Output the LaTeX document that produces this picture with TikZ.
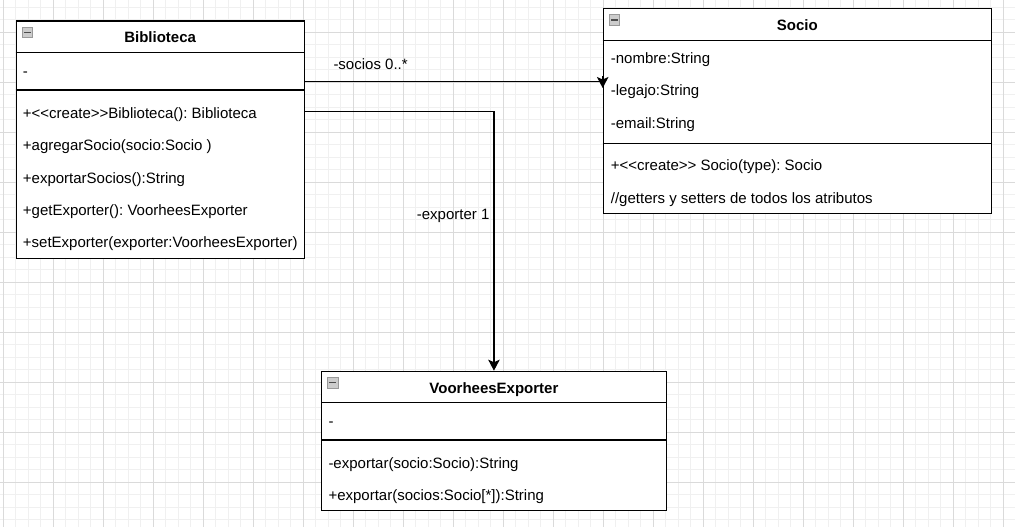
\documentclass[tikz,border=0pt]{standalone}
\usepackage{fontspec}
\setmainfont{Liberation Sans}
\usetikzlibrary{arrows.meta}
\definecolor{gridmajor}{HTML}{DADADA}
\definecolor{gridminor}{HTML}{F0F0F0}
\frenchspacing
\begin{document}
\begin{tikzpicture}[x=1pt,y=-1pt,
  umlbox/.style={draw=black,line width=1.2pt,fill=white,rectangle,inner sep=0pt,anchor=north west},
  sep/.style={draw=black,line width=1.2pt},
  title/.style={font=\fontsize{15}{18}\selectfont\bfseries,inner sep=0pt,anchor=base},
  member/.style={font=\fontsize{15}{18}\selectfont,inner sep=0pt,anchor=base west},
  lbl/.style={font=\fontsize{15}{18}\selectfont,inner sep=0pt,anchor=base west},
  wire/.style={draw=black,line width=1.2pt},
  conn/.style={wire,-{Stealth[length=11pt,width=11.5pt,inset=2.5pt]}},
  icon/.style={rectangle,anchor=north west,minimum size=10.5pt,inner sep=0pt,fill=gray!40,draw=gray!80,line width=0.7pt,
    path picture={\draw[black!70,line width=1.6pt] ([xshift=1.8pt]path picture bounding box.west) -- ([xshift=-1.8pt]path picture bounding box.east);}}
]
\useasboundingbox (0,0) rectangle (1015,527);
\fill[white] (0,0) rectangle (1015,527);
% grid
\begin{scope}
\clip (0,0) rectangle (1015,527);
\foreach \i in {0,...,81} { \draw[gridminor,line width=1pt] ({3.3+12.5*\i},0) -- ({3.3+12.5*\i},527); }
\foreach \i in {0,...,43} { \draw[gridminor,line width=1pt] (0,{-5.2+12.5*\i}) -- (1015,{-5.2+12.5*\i}); }
\foreach \i in {0,...,20} { \draw[gridmajor,line width=1pt] ({3.3+50*\i},0) -- ({3.3+50*\i},527); }
\foreach \i in {0,...,11} { \draw[gridmajor,line width=1pt] (0,{-17.7+50*\i}) -- (1015,{-17.7+50*\i}); }
\end{scope}

% Biblioteca
\node[umlbox,minimum width=288pt,minimum height=237pt] (bib) at (15.5,20.5) {};
\draw[sep] (bib.west |- 0,52.7) -- (bib.east |- 0,52.7);
\draw[sep] (bib.west |- 0,90) -- (bib.east |- 0,90);
\node[icon] (bibicon) at (21.7,26.8) {};
\node[title] (bibtitle) at (bib.north |- 0,42.7) {Biblioteca};
\node[member] (bibattr) at (22.7,76.4) {-};
\node[member] (bibm1) at (22.7,118.6) {+<{}<create>{}>Biblioteca(): Biblioteca};
\node[member] (bibm2) at (22.7,150.9) {+agregarSocio(socio:Socio )};
\node[member] (bibm3) at (22.7,183.2) {+exportarSocios():String};
\node[member] (bibm4) at (22.7,215.5) {+getExporter(): VoorheesExporter};
\node[member] (bibm5) at (22.7,247.8) {+setExporter(exporter:VoorheesExporter)};

% Socio
\node[umlbox,minimum width=388pt,minimum height=204.7pt] (soc) at (602.7,8) {};
\draw[sep] (soc.west |- 0,40.7) -- (soc.east |- 0,40.7);
\draw[sep] (soc.west |- 0,143.3) -- (soc.east |- 0,143.3);
\node[icon] (socicon) at (608.9,14.3) {};
\node[title] (soctitle) at (soc.north |- 0,30.4) {Socio};
\node[member] (soca1) at (610.7,63.4) {-nombre:String};
\node[member] (soca2) at (610.7,95.7) {-legajo:String};
\node[member] (soca3) at (610.7,128.4) {-email:String};
\node[member] (socm1) at (610.7,170.3) {+<{}<create>{}> Socio(type): Socio};
\node[member] (socm2) at (610.7,203.6) {//getters y setters de todos los atributos};

% VoorheesExporter
\node[umlbox,minimum width=344.7pt,minimum height=139.3pt] (vex) at (321,370.7) {};
\draw[sep] (vex.west |- 0,402.7) -- (vex.east |- 0,402.7);
\draw[sep] (vex.west |- 0,440) -- (vex.east |- 0,440);
\node[icon] (vexicon) at (327.2,377) {};
\node[title] (vextitle) at (vex.north |- 0,393.7) {VoorheesExporter};
\node[member] (vexattr) at (328.3,426.4) {-};
\node[member] (vexm1) at (328.3,468) {-exportar(socio:Socio):String};
\node[member] (vexm2) at (328.3,500.3) {+exportar(socios:Socio[*]):String};

% connectors
\draw[wire] (bib.east |- 0,81.7) -- (soc.west |- 0,81.7);
\draw[conn] (soc.west |- 0,76.5) -- (soc.west |- 0,88);
\node[lbl] (lblsocios) at (333.3,69.3) {-socios 0..*};
\draw[conn] (bib.east |- 0,111.5) -| (vex.north);
\node[lbl] (lblexp) at (416.7,219.3) {-exporter 1};
\end{tikzpicture}
\end{document}
